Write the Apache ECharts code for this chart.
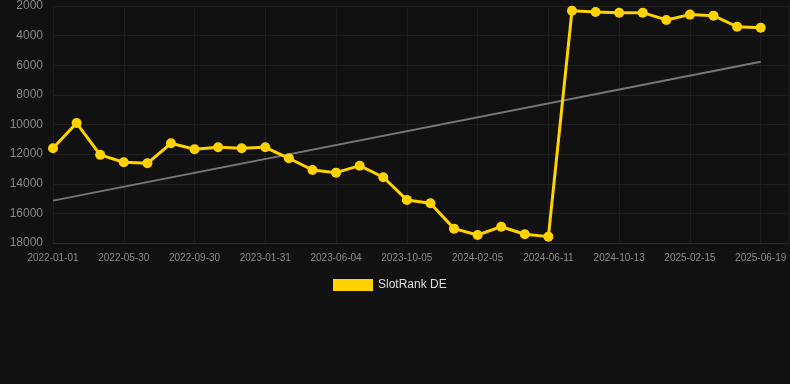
<!DOCTYPE html>
<html>
<head>
<meta charset="utf-8">
<script src="https://cdn.jsdelivr.net/npm/echarts@6/dist/echarts.min.js"></script>
<style>
html,body{margin:0;padding:0;background:#111111;}
#chart{width:790px;height:384px;}
</style>
</head>
<body>
<div id="chart"></div>
<script>
var categories = [
  '2022-01-01','2022-02-19','2022-04-09','2022-05-30','2022-07-10','2022-08-20',
  '2022-09-30','2022-11-10','2022-12-21','2023-01-31','2023-03-13','2023-04-24',
  '2023-06-04','2023-07-15','2023-08-25','2023-10-05','2023-11-15','2023-12-26',
  '2024-02-05','2024-03-18','2024-04-30','2024-06-11','2024-07-22','2024-09-02',
  '2024-10-13','2024-11-23','2025-01-04','2025-02-15','2025-03-28','2025-05-09',
  '2025-06-19'
];
var rankValues = [
  11600, 9900, 12050, 12550, 12620, 11270,
  11670, 11540, 11600, 11540, 12280, 13070,
  13250, 12780, 13560, 15090, 15320, 17030,
  17460, 16900, 17410, 17570, 2320, 2400,
  2450, 2450, 2940, 2580, 2650, 3400,
  3460
];
var trendStart = 15140;
var trendEnd = 5760;
var yTicks = [2000, 4000, 6000, 8000, 10000, 12000, 14000, 16000, 18000];
var seriesName = 'SlotRank DE';

var rankData = rankValues.map(function (v, i) { return [i, v]; });
var trendData = [[0, trendStart], [categories.length - 1, trendEnd]];

var chart = echarts.init(document.getElementById('chart'), null, {renderer: 'canvas'});
chart.setOption({
  backgroundColor: '#111111',
  animation: false,
  grid: {left: 53, right: 1, top: 6, bottom: 141, containLabel: false},
  legend: {
    data: [seriesName],
    left: 328,
    top: 274,
    itemWidth: 40,
    itemHeight: 12,
    itemGap: 10,
    textStyle: {color: '#dddddd', fontSize: 12, fontFamily: 'Liberation Sans, Arial, sans-serif'},
    icon: 'rect'
  },
  xAxis: {
    type: 'value',
    min: 0,
    max: 31.2,
    interval: 3,
    axisLine: {show: true, lineStyle: {color: '#2a2a2a'}},
    axisTick: {show: false},
    splitLine: {show: true, lineStyle: {color: '#1d1d1d', width: 1}},
    axisLabel: {
      color: '#8c8c8c',
      fontSize: 10,
      fontFamily: 'Liberation Sans, Arial, sans-serif',
      margin: 10,
      showMaxLabel: false,
      formatter: function (v) {
        var i = Math.round(v);
        if (Math.abs(v - i) > 1e-6 || i % 3 !== 0) return '';
        return categories[i] || '';
      }
    }
  },
  yAxis: {
    type: 'value',
    inverse: true,
    min: yTicks[0],
    max: yTicks[yTicks.length - 1],
    interval: 2000,
    axisLine: {show: false},
    axisTick: {show: false},
    splitLine: {show: true, lineStyle: {color: '#1f1f1f', width: 1}},
    axisLabel: {
      color: '#888888',
      fontSize: 12,
      fontFamily: 'Liberation Sans, Arial, sans-serif',
      margin: 10,
      formatter: function (v) { return String(v); }
    }
  },
  series: [
    {
      name: 'trend',
      type: 'line',
      data: trendData,
      symbol: 'none',
      silent: true,
      lineStyle: {color: '#777777', width: 2},
      z: 1
    },
    {
      name: seriesName,
      type: 'line',
      data: rankData,
      symbol: 'circle',
      symbolSize: 10,
      itemStyle: {color: '#FFD200'},
      lineStyle: {color: '#FFD200', width: 3},
      z: 2
    }
  ]
});
</script>
</body>
</html>
